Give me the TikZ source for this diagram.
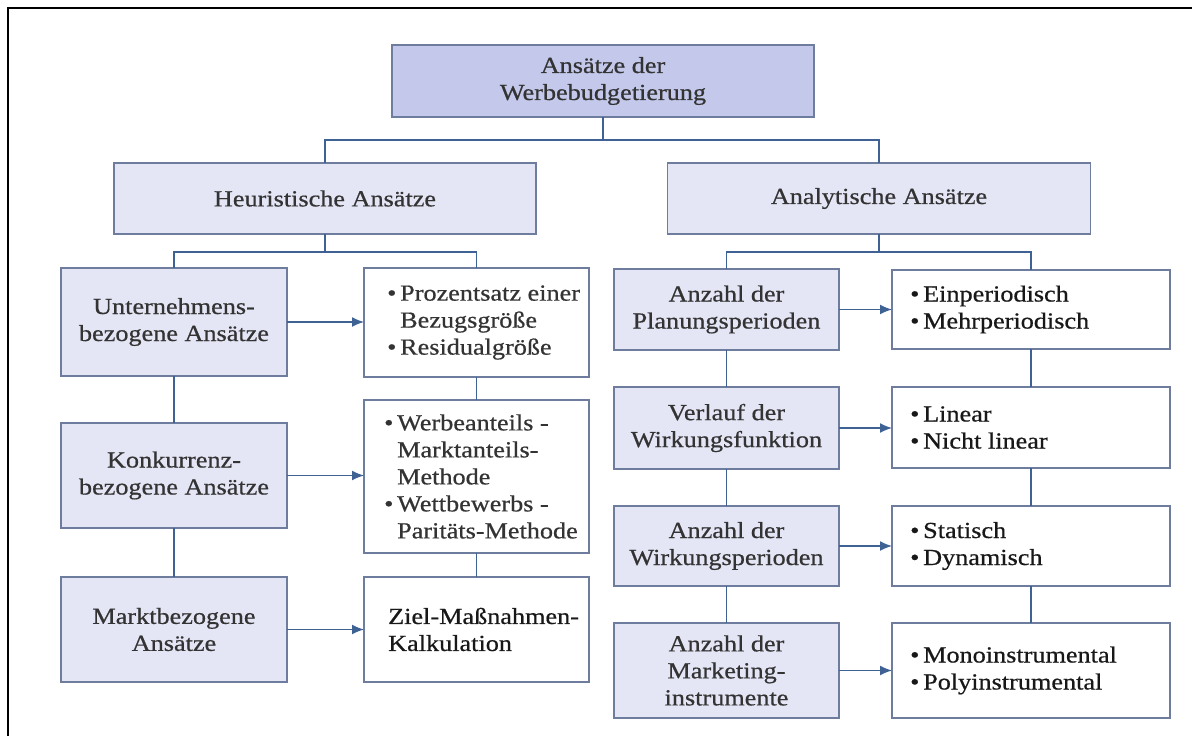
\documentclass[tikz,border=0pt]{standalone}
\usepackage{fontspec}
\setmainfont{Liberation Serif}[FakeStretch=1.14,FakeBold=0.6]
\usetikzlibrary{arrows.meta}

\definecolor{rootfill}{HTML}{C4C9EC}
\definecolor{boxfill}{HTML}{E4E6F6}
\definecolor{boxline}{HTML}{6E7C9E}
\definecolor{linkline}{HTML}{3F6294}
\definecolor{txt}{HTML}{333333}
\definecolor{txtdark}{HTML}{181818}

% bullet with a fixed width, and the matching indent for continuation lines
\newcommand\itm{\makebox[13pt][l]{\textbullet}}
\newcommand\ind{\hspace*{13pt}}

\begin{document}
\begin{tikzpicture}[x=1pt,y=-1pt,
  base/.style={draw=boxline, line width=1.4pt, outer sep=0pt,
    font=\fontsize{23}{27}\selectfont, text=txt},
  catbox/.style={base, fill=boxfill, align=center, inner sep=2pt},
  rootbox/.style={catbox, fill=rootfill},
  listbox/.style={base, fill=white, inner sep=0pt},
  listtext/.style={align=left, inner sep=0pt, anchor=west,
    font=\fontsize{23}{27}\selectfont, text=txtdark},
  link/.style={draw=linkline, line width=1.5pt},
  arrow/.style={link, -{Latex[length=12pt,width=10pt]}}]

\useasboundingbox (0,0) rectangle (1192,736);
\clip (0,0) rectangle (1192,736);
\fill[white] (0,0) rectangle (1192,736);
\draw[line width=2pt] (1200,8) -- (8,8) -- (8,750);

% ---- top levels
\node[rootbox, minimum width=422pt, minimum height=72pt] (root) at (603,81)
  {Ansätze der\\Werbebudgetierung};
\node[catbox, minimum width=422pt, minimum height=71pt] (heur) at (325,198.5)
  {Heuristische Ansätze};
\node[catbox, minimum width=423pt, minimum height=71pt] (anal) at (879,198.5)
  {Analytische Ansätze};

% ---- heuristic branch
\node[catbox, minimum width=226pt, minimum height=108pt] (unt) at (174,322)
  {Unternehmens-\\bezogene Ansätze};
\node[catbox, minimum width=226pt, minimum height=105pt] (konk) at (174,475.5)
  {Konkurrenz-\\bezogene Ansätze};
\node[catbox, minimum width=226pt, minimum height=105pt] (markt) at (174,629.5)
  {Marktbezogene\\Ansätze};

\node[listbox, minimum width=225pt, minimum height=109pt] (proz) at (476.5,322.5) {};
\node[listtext, text=txt] (proztext) at ([xshift=23pt]proz.west)
  {\itm Prozentsatz einer\\\ind Bezugsgröße\\\itm Residualgröße};
\node[listbox, minimum width=225pt, minimum height=153pt] (werb) at (476.5,476.5) {};
\node[listtext, text=txt] (werbtext) at ([xshift=20pt]werb.west)
  {\itm Werbeanteils -\\\ind Marktanteils-\\\ind Methode\\\itm Wettbewerbs -\\\ind Paritäts-Methode};
\node[listbox, minimum width=225pt, minimum height=105pt] (ziel) at (476.5,629.5) {};
\node[listtext] (zieltext) at ([xshift=24pt]ziel.west)
  {Ziel-Maßnahmen-\\Kalkulation};

% ---- analytic branch
\node[catbox, minimum width=225pt, minimum height=81pt] (plan) at (726.5,309.5)
  {Anzahl der\\Planungsperioden};
\node[catbox, minimum width=225pt, minimum height=82pt] (verl) at (726.5,428)
  {Verlauf der\\Wirkungsfunktion};
\node[catbox, minimum width=225pt, minimum height=80pt] (wirk) at (726.5,546)
  {Anzahl der\\Wirkungsperioden};
\node[catbox, minimum width=225pt, minimum height=95pt] (mark) at (726.5,670.5)
  {Anzahl der\\Marketing-\\instrumente};

\node[listbox, minimum width=278pt, minimum height=79pt] (ein) at (1031,309.5) {};
\node[listtext] (eintext) at ([xshift=18pt]ein.west)
  {\itm Einperiodisch\\\itm Mehrperiodisch};
\node[listbox, minimum width=278pt, minimum height=81pt] (lin) at (1031,427.5) {};
\node[listtext] (lintext) at ([xshift=18pt]lin.west)
  {\itm Linear\\\itm Nicht linear};
\node[listbox, minimum width=278pt, minimum height=80pt] (stat) at (1031,546) {};
\node[listtext] (stattext) at ([xshift=18pt]stat.west)
  {\itm Statisch\\\itm Dynamisch};
\node[listbox, minimum width=278pt, minimum height=95pt] (mono) at (1031,670.5) {};
\node[listtext] (monotext) at ([xshift=18pt]mono.west)
  {\itm Monoinstrumental\\\itm Polyinstrumental};

% ---- tree connectors
\coordinate (j1) at (603,140);
\coordinate (j2) at (325,252);
\coordinate (j3) at (879,252);
\draw[link] (root.south) -- (j1);
\draw[link] (heur.north) |- (j1) -| (anal.north);
\draw[link] (heur.south) -- (j2);
\draw[link] (unt.north) |- (j2) -| (proz.north);
\draw[link] (anal.south) -- (j3);
\draw[link] (plan.north) |- (j3) -| (ein.north);

\draw[link] (unt.south) -- (konk.north);
\draw[link] (konk.south) -- (markt.north);
\draw[link] (proz.south) -- (werb.north);
\draw[link] (werb.south) -- (ziel.north);
\draw[link] (plan.south) -- (verl.north);
\draw[link] (verl.south) -- (wirk.north);
\draw[link] (wirk.south) -- (mark.north);
\draw[link] (ein.south) -- (lin.north);
\draw[link] (lin.south) -- (stat.north);
\draw[link] (stat.south) -- (mono.north);

% ---- arrows into the detail boxes
\draw[arrow] (unt.east) -- (unt.east -| proz.west);
\draw[arrow] (konk.east) -- (konk.east -| werb.west);
\draw[arrow] (markt.east) -- (markt.east -| ziel.west);
\draw[arrow] (plan.east) -- (plan.east -| ein.west);
\draw[arrow] (verl.east) -- (verl.east -| lin.west);
\draw[arrow] (wirk.east) -- (wirk.east -| stat.west);
\draw[arrow] (mark.east) -- (mark.east -| mono.west);
\end{tikzpicture}
\end{document}
